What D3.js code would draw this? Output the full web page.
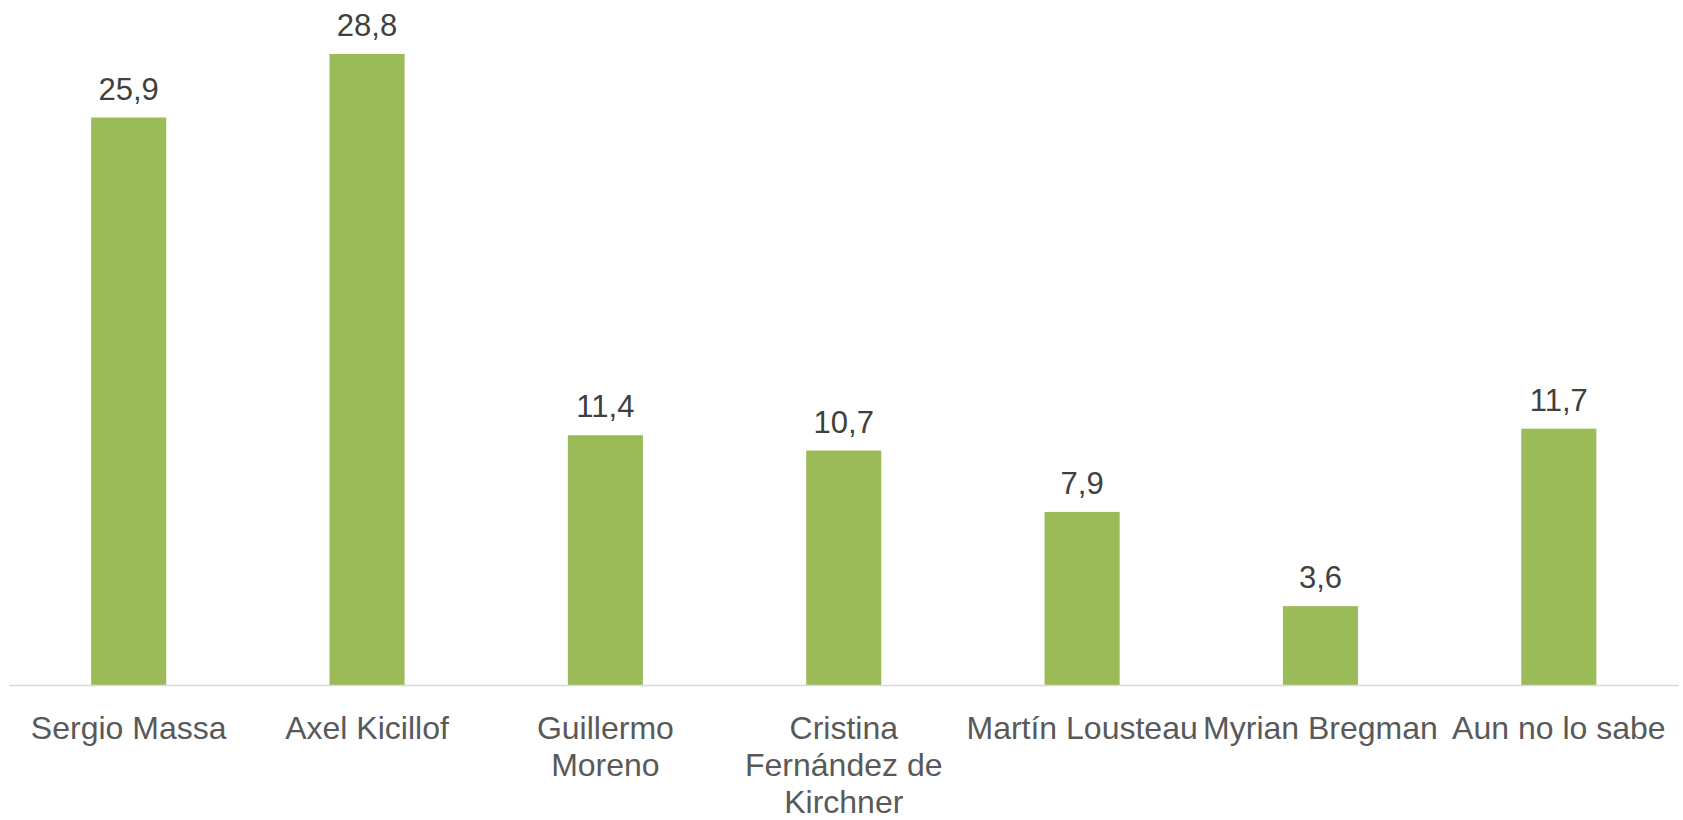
<!DOCTYPE html>
<html>
<head>
<meta charset="utf-8">
<script src="https://cdn.jsdelivr.net/npm/d3@7"></script>
<style>
  html, body { margin: 0; padding: 0; background: #ffffff; }
  svg { display: block; }
  text { font-family: "Liberation Sans", Arial, Helvetica, sans-serif; }
</style>
</head>
<body>
<svg id="chart" width="1683" height="820"></svg>
<script>
const categories = ["Sergio Massa", "Axel Kicillof", "Guillermo Moreno", "Cristina Fernández de Kirchner", "Martín Lousteau", "Myrian Bregman", "Aun no lo sabe"];
const values = [25.9, 28.8, 11.4, 10.7, 7.9, 3.6, 11.7];
const tickLabelLines = [
  ["Sergio Massa"],
  ["Axel Kicillof"],
  ["Guillermo", "Moreno"],
  ["Cristina", "Fernández de", "Kirchner"],
  ["Martín Lousteau"],
  ["Myrian Bregman"],
  ["Aun no lo sabe"]
];

const svg = d3.select("#chart");
const baseY = 685;
const unitPx = 21.91;

const x = d3.scaleBand()
  .domain(categories)
  .range([9.5, 1678])
  .paddingInner(0.685)
  .paddingOuter(0.3425);

const y = d3.scaleLinear()
  .domain([0, 30])
  .range([baseY, baseY - 30 * unitPx]);

const fmt = v => d3.format(".1f")(v).replace(".", ",");

// bars
svg.append("g").selectAll("rect")
  .data(categories)
  .join("rect")
  .attr("x", d => x(d))
  .attr("width", x.bandwidth())
  .attr("y", (d, i) => y(values[i]))
  .attr("height", (d, i) => y(0) - y(values[i]))
  .attr("fill", "#9bbb59");

// axis line via d3 axis
const xAxis = svg.append("g")
  .attr("transform", `translate(0,${baseY + 0.5})`)
  .call(d3.axisBottom(x).tickSize(0).tickFormat(""));
xAxis.select(".domain").attr("stroke", "#d9d9d9").attr("stroke-width", 1.6).attr("d", `M9,0H1679`);

// category labels
const labelG = svg.append("g");
categories.forEach((c, i) => {
  const t = labelG.append("text")
    .attr("x", x(c) + x.bandwidth() / 2)
    .attr("y", 738.5)
    .attr("text-anchor", "middle")
    .attr("font-size", "32px")
    .attr("fill", "#595959");
  tickLabelLines[i].forEach((line, j) => {
    t.append("tspan")
      .attr("x", x(c) + x.bandwidth() / 2)
      .attr("dy", j === 0 ? 0 : 37)
      .text(line);
  });
});

// value labels
svg.append("g").selectAll("text")
  .data(categories)
  .join("text")
  .attr("x", d => x(d) + x.bandwidth() / 2)
  .attr("y", (d, i) => y(values[i]) - 18)
  .attr("text-anchor", "middle")
  .attr("font-size", "31px")
  .attr("fill", "#404040")
  .text((d, i) => fmt(values[i]));
</script>
</body>
</html>
